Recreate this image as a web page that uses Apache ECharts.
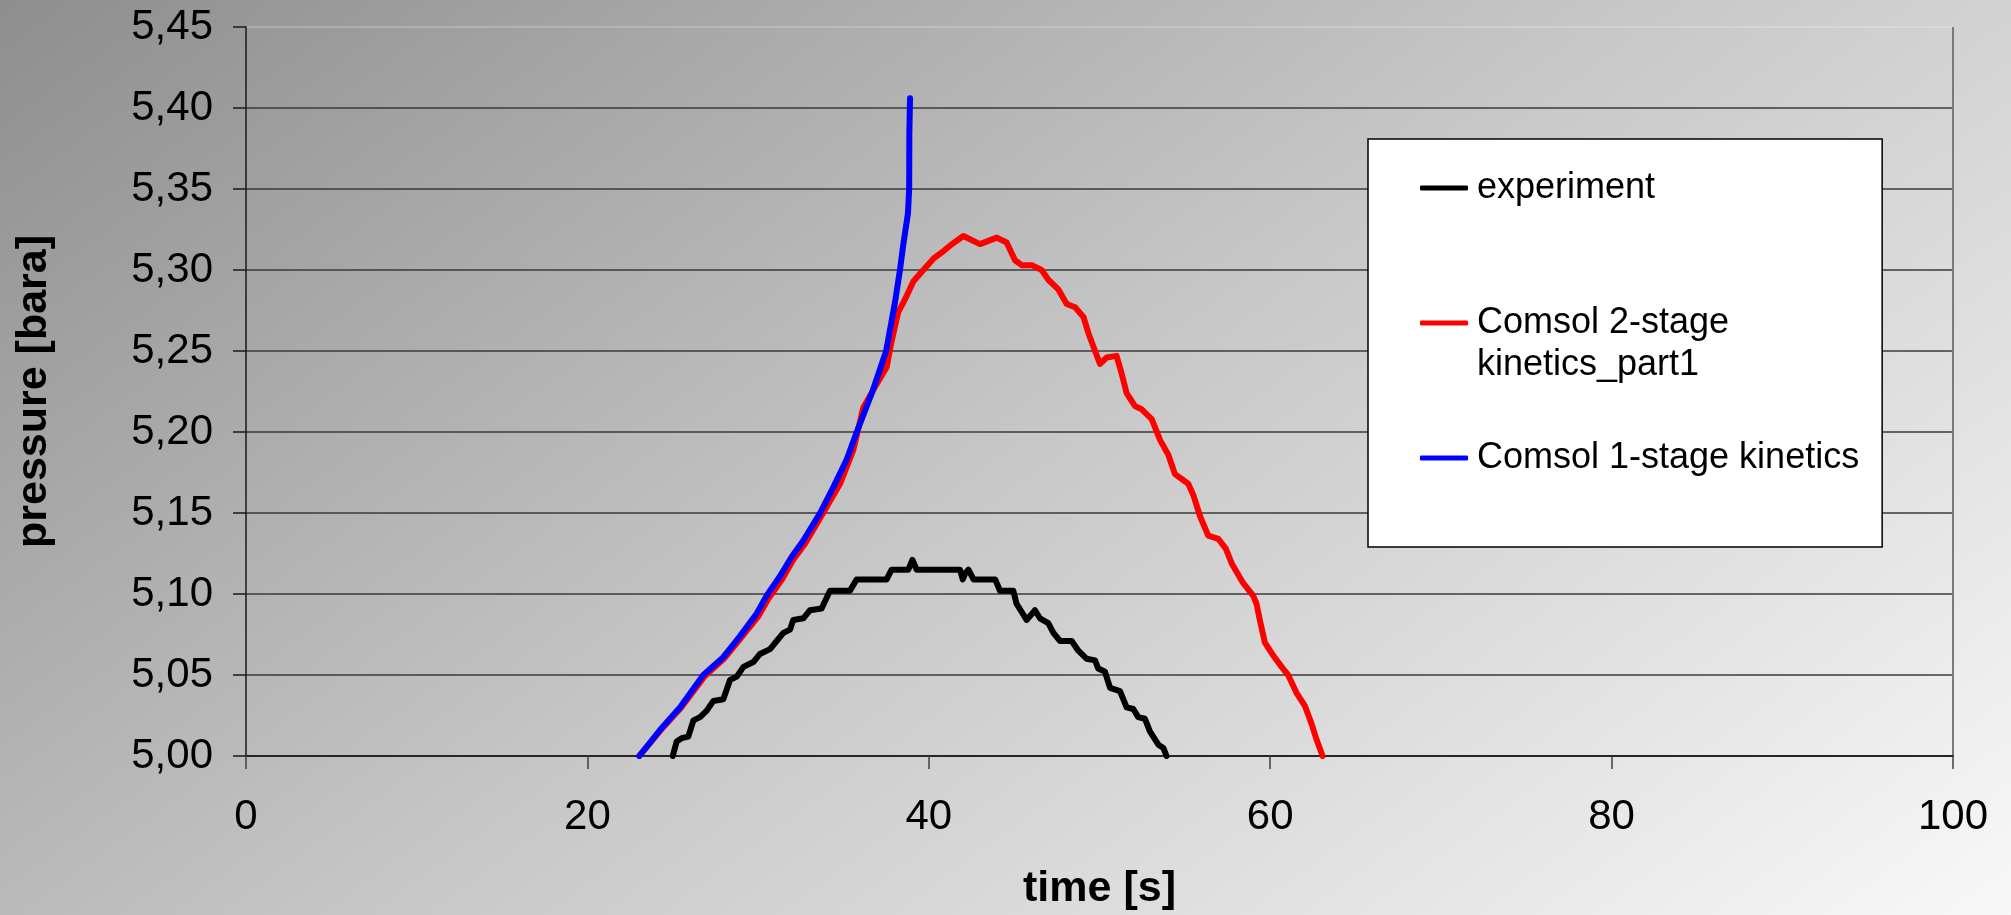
<!DOCTYPE html>
<html>
<head>
<meta charset="utf-8">
<title>pressure vs time</title>
<script src="https://cdn.jsdelivr.net/npm/echarts@6/dist/echarts.min.js"></script>
<style>
  html, body { margin: 0; padding: 0; }
  #chart { width: 2011px; height: 915px; }
</style>
</head>
<body>
<div id="chart"></div>
<script>
// Series names (legend order); the leading blank line keeps the legend
// icon level with the first line of the two-line entry
const seriesNames = ['experiment', '\nComsol 2-stage\nkinetics_part1', 'Comsol 1-stage kinetics'];

// Axis ranges
const timeRange = { min: 0, max: 100, step: 20 };
const pressureRange = { min: 5.00, max: 5.45, step: 0.05 };

// experiment: time [s] and pressure [bara]
const expTime = [25.00, 25.23, 25.52, 25.91, 26.21, 26.60, 26.99, 27.38, 27.96, 28.36, 28.75, 29.14, 29.72, 30.11, 30.70, 31.09, 31.48, 31.87, 32.06, 32.65, 33.04, 33.72, 34.21, 35.38, 35.77, 37.53, 37.82, 38.80, 39.04, 39.29, 41.83, 41.99, 42.15, 42.32, 42.62, 43.89, 44.17, 44.95, 45.14, 45.73, 46.22, 46.51, 47.00, 47.30, 47.69, 48.37, 48.76, 49.25, 49.74, 49.93, 50.32, 50.62, 51.20, 51.59, 51.98, 52.27, 52.66, 52.96, 53.45, 53.74, 53.93];
const expPressure = [5.000, 5.009, 5.011, 5.012, 5.022, 5.024, 5.028, 5.034, 5.035, 5.047, 5.049, 5.055, 5.058, 5.063, 5.066, 5.071, 5.076, 5.078, 5.084, 5.085, 5.090, 5.091, 5.102, 5.102, 5.109, 5.109, 5.115, 5.115, 5.121, 5.115, 5.115, 5.109, 5.113, 5.115, 5.109, 5.109, 5.102, 5.102, 5.094, 5.084, 5.090, 5.085, 5.082, 5.076, 5.071, 5.071, 5.065, 5.060, 5.059, 5.054, 5.052, 5.042, 5.040, 5.030, 5.029, 5.024, 5.023, 5.015, 5.007, 5.005, 5.000];

// Comsol 2-stage kinetics (part 1)
const twoStageTime = [23.04, 24.30, 25.50, 26.85, 28.00, 29.00, 30.00, 30.60, 31.40, 32.05, 32.75, 33.70, 34.80, 35.58, 36.16, 36.75, 37.53, 37.82, 38.21, 38.61, 39.10, 39.68, 40.27, 40.90, 41.24, 42.02, 43.00, 43.98, 44.56, 45.05, 45.44, 46.03, 46.61, 47.00, 47.59, 48.08, 48.57, 49.06, 49.35, 49.74, 50.03, 50.42, 51.00, 51.30, 51.59, 52.08, 52.47, 53.06, 53.55, 54.03, 54.42, 54.82, 55.20, 55.50, 55.89, 56.37, 56.96, 57.40, 57.74, 58.40, 59.00, 59.20, 59.39, 59.69, 60.18, 60.67, 61.05, 61.54, 62.03, 62.42, 62.72, 63.07];
const twoStagePressure = [5.000, 5.016, 5.030, 5.049, 5.060, 5.073, 5.086, 5.097, 5.109, 5.121, 5.131, 5.148, 5.168, 5.189, 5.215, 5.226, 5.240, 5.256, 5.274, 5.282, 5.293, 5.300, 5.307, 5.312, 5.315, 5.321, 5.316, 5.320, 5.317, 5.306, 5.303, 5.303, 5.300, 5.294, 5.288, 5.279, 5.277, 5.271, 5.261, 5.250, 5.242, 5.246, 5.247, 5.236, 5.224, 5.216, 5.214, 5.208, 5.195, 5.186, 5.174, 5.171, 5.168, 5.161, 5.148, 5.136, 5.134, 5.128, 5.119, 5.107, 5.099, 5.094, 5.084, 5.070, 5.062, 5.055, 5.050, 5.039, 5.031, 5.020, 5.010, 5.000];

// Comsol 1-stage kinetics
const oneStageTime = [23.04, 24.25, 25.42, 26.79, 27.96, 28.94, 29.92, 30.50, 31.28, 31.97, 32.65, 33.63, 34.41, 35.19, 35.78, 36.70, 37.50, 38.02, 38.31, 38.51, 38.78, 38.85, 38.86, 38.90];
const oneStagePressure = [5.000, 5.016, 5.030, 5.050, 5.061, 5.074, 5.088, 5.099, 5.111, 5.123, 5.133, 5.150, 5.166, 5.183, 5.200, 5.225, 5.250, 5.280, 5.300, 5.316, 5.335, 5.350, 5.384, 5.406];

const pairs = (xs, ys) => xs.map((x, i) => [x, ys[i]]);

const FONT = "'Liberation Sans', Arial, sans-serif";

const chart = echarts.init(document.getElementById('chart'), null, { renderer: 'canvas' });

const lineSeries = (name, data, color) => ({
  name: name,
  type: 'line',
  data: data,
  showSymbol: false,
  symbol: 'none',
  smooth: false,
  clip: true,
  lineStyle: { color: color, width: 6, cap: 'round', join: 'round' },
  itemStyle: { color: color },
  emphasis: { disabled: true }
});

chart.setOption({
  animation: false,
  backgroundColor: {
    type: 'linear', x: 0, y: 0, x2: 1130, y2: 1555, global: true,
    colorStops: [
      { offset: 0, color: '#8e8e8e' },
      { offset: 0.5, color: '#c7c7c7' },
      { offset: 1, color: '#f8f8f8' }
    ]
  },
  textStyle: { fontFamily: FONT },
  grid: { left: 246, right: 58, top: 27, bottom: 159, containLabel: false, outerBoundsMode: 'none' },
  legend: {
    orient: 'vertical',
    left: 1368,
    top: 139,
    icon: 'roundRect',
    itemWidth: 48,
    itemHeight: 5,
    itemGap: 51,
    padding: [28, 23, 68, 52],
    backgroundColor: '#ffffff',
    borderColor: '#000000',
    borderWidth: 1.5,
    borderRadius: 0,
    selectedMode: false,
    textStyle: { fontFamily: FONT, fontSize: 36, color: '#000', lineHeight: 42, padding: [0, 0, 0, 4] },
    data: seriesNames
  },
  xAxis: {
    type: 'value',
    min: timeRange.min,
    max: timeRange.max,
    interval: timeRange.step,
    name: 'time [s]',
    nameLocation: 'middle',
    nameGap: 112,
    nameTextStyle: { fontFamily: FONT, fontSize: 43, fontWeight: 'bold', color: '#000' },
    axisLine: { show: true, onZero: false, lineStyle: { color: '#262626', width: 2 } },
    axisTick: { show: true, inside: false, length: 13, lineStyle: { color: '#404040', width: 1.5 } },
    axisLabel: { margin: 40, fontFamily: FONT, fontSize: 42, color: '#000' },
    splitLine: {
      show: true,
      lineStyle: { color: ['rgba(0,0,0,0)', 'rgba(0,0,0,0)', 'rgba(0,0,0,0)', 'rgba(0,0,0,0)', 'rgba(0,0,0,0)', '#7a7a7a'], width: 2 }
    }
  },
  yAxis: {
    type: 'value',
    min: pressureRange.min,
    max: pressureRange.max,
    interval: pressureRange.step,
    name: 'pressure [bara]',
    nameLocation: 'middle',
    nameGap: 190,
    nameTextStyle: { fontFamily: FONT, fontSize: 43, fontWeight: 'bold', color: '#000' },
    axisLine: { show: true, onZero: false, lineStyle: { color: '#1a1a1a', width: 1.5 } },
    axisTick: { show: true, inside: false, length: 13, lineStyle: { color: '#1a1a1a', width: 1.5 } },
    axisLabel: {
      margin: 33, fontFamily: FONT, fontSize: 42, color: '#000',
      formatter: v => v.toFixed(2).replace('.', ',')
    },
    splitLine: {
      show: true,
      lineStyle: {
        color: ['#3a3a3a', '#3a3a3a', '#3a3a3a', '#3a3a3a', '#3a3a3a', '#3a3a3a', '#3a3a3a', '#3a3a3a', '#3a3a3a', 'rgba(255,255,255,0.25)'],
        width: 1.5
      }
    }
  },
  series: [
    lineSeries(seriesNames[0], pairs(expTime, expPressure), '#000000'),
    lineSeries(seriesNames[1], pairs(twoStageTime, twoStagePressure), '#ff0000'),
    lineSeries(seriesNames[2], pairs(oneStageTime, oneStagePressure), '#0000ff')
  ]
});
</script>
</body>
</html>
